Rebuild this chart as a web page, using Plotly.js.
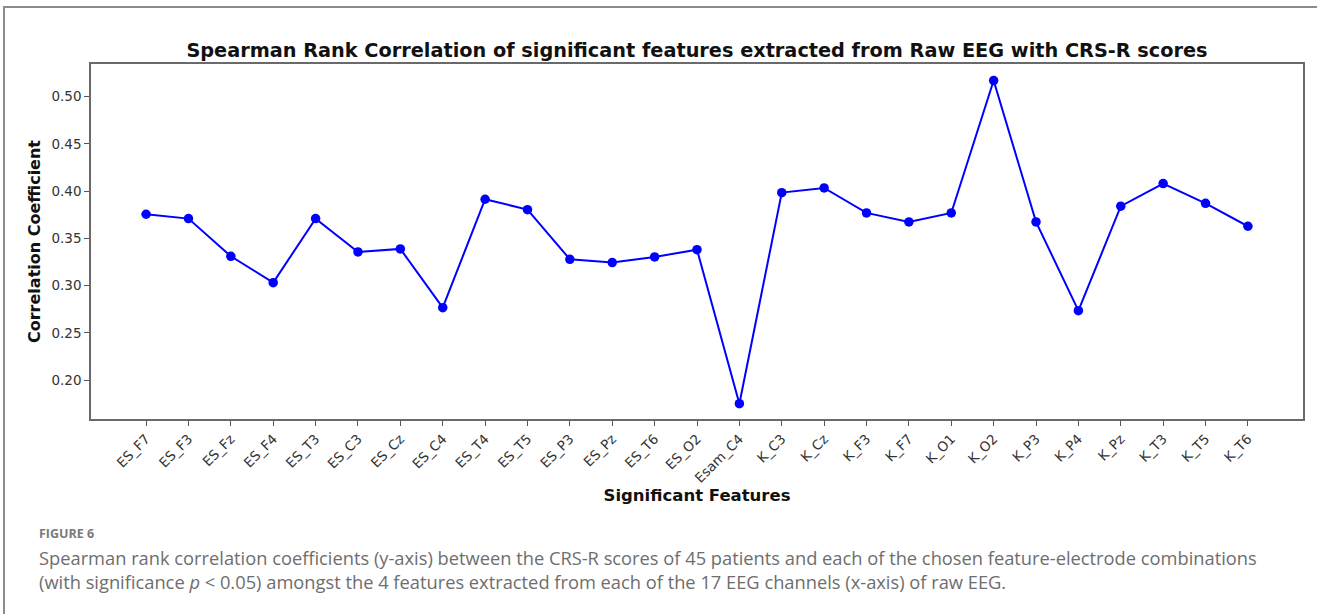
<!DOCTYPE html>
<html>
<head>
<meta charset="utf-8">
<script src="https://cdn.plot.ly/plotly-3.0.1.min.js"></script>
<style>
  html, body { margin: 0; padding: 0; background: #ffffff; }
  #wrap { position: relative; width: 1317px; height: 614px; overflow: hidden; }
  #frame { position: absolute; left: 3px; top: 6px; right: -5px; bottom: -5px;
           border-top: 2px solid #8c8c8c; border-left: 2px solid #8c8c8c; pointer-events: none; }
  #chart { position: absolute; left: 0; top: 0; width: 1317px; height: 614px; }
</style>
</head>
<body>
<div id="wrap">
  <div id="chart"></div>
  <div id="frame"></div>
</div>
<script>
const features = ["ES_F7","ES_F3","ES_Fz","ES_F4","ES_T3","ES_C3","ES_Cz","ES_C4","ES_T4","ES_T5",
                  "ES_P3","ES_Pz","ES_T6","ES_O2","Esam_C4","K_C3","K_Cz","K_F3","K_F7","K_O1",
                  "K_O2","K_P3","K_P4","K_Pz","K_T3","K_T5","K_T6"];
const correlation = [0.3755,0.3709,0.3310,0.3031,0.3709,0.3356,0.3388,0.2766,0.3914,0.3804,
                     0.3278,0.3243,0.3303,0.3380,0.1749,0.3984,0.4034,0.3769,0.3674,0.3769,
                     0.5171,0.3674,0.2734,0.3840,0.4080,0.3871,0.3628];
const yTicks = [0.20,0.25,0.30,0.35,0.40,0.45,0.50];
const yTickText = ["0.20","0.25","0.30","0.35","0.40","0.45","0.50"];

const trace = {
  x: features, y: correlation, type: "scatter", mode: "lines+markers",
  line: {color: "#0000ff", width: 2},
  marker: {color: "#0000ff", size: 9.5, line: {color: "#0000ff", width: 0}},
  hoverinfo: "x+y"
};

const tickFont = {family: "DejaVu Sans", size: 13.5, color: "#333333"};
const W = 1212, H = 355, L = 91, T = 64;
function px2x(px) { return (px - L) / W; }
function py2y(py) { return (T + H - py) / H; }

const layout = {
  width: 1317, height: 614,
  margin: {l: 91, r: 14, t: 64, b: 195},
  paper_bgcolor: "#ffffff", plot_bgcolor: "#ffffff",
  showlegend: false,
  title: {
    text: "<b>Spearman Rank Correlation of significant features extracted from Raw EEG with CRS-R scores</b>",
    font: {family: "DejaVu Sans", size: 19.3, color: "#111111"},
    xref: "paper", x: 0.5, xanchor: "center",
    yref: "container", y: 1 - 50.5/614, yanchor: "middle"
  },
  xaxis: {
    type: "category", range: [-1.3, 27.3],
    showgrid: false, zeroline: false,
    showline: true, mirror: true, linecolor: "#6a6a6a", linewidth: 1.5,
    ticks: "outside", ticklen: 5, tickcolor: "#555555", tickwidth: 1,
    tickangle: -45, tickfont: tickFont,
    title: {text: "<b>Significant Features</b>", font: {family: "DejaVu Sans", size: 16.5, color: "#111111"}, standoff: 1}
  },
  yaxis: {
    range: [0.1587, 0.5346],
    tickvals: yTicks, ticktext: yTickText,
    showgrid: false, zeroline: false,
    showline: true, mirror: true, linecolor: "#6a6a6a", linewidth: 1.5,
    ticks: "outside", ticklen: 5, tickcolor: "#555555", tickwidth: 1,
    tickfont: tickFont,
    title: {text: "<b>Correlation Coefficient</b>", font: {family: "DejaVu Sans", size: 16, color: "#111111"}, standoff: 7}
  },
  annotations: [
    {text: "<b>FIGURE 6</b>", xref: "paper", yref: "paper", x: px2x(37), y: py2y(533),
     xanchor: "left", yanchor: "middle", showarrow: false,
     font: {family: "Open Sans", size: 12.5, color: "#7a7a7a"}},
    {text: "Spearman rank correlation coefficients (y-axis) between the CRS-R scores of 45 patients and each of the chosen feature-electrode combinations",
     xref: "paper", yref: "paper", x: px2x(37), y: py2y(557),
     xanchor: "left", yanchor: "middle", showarrow: false,
     font: {family: "Open Sans", size: 18.3, color: "#6e6e6e"}},
    {text: "(with significance <i>p</i> &lt; 0.05) amongst the 4 features extracted from each of the 17 EEG channels (x-axis) of raw EEG.",
     xref: "paper", yref: "paper", x: px2x(37), y: py2y(581),
     xanchor: "left", yanchor: "middle", showarrow: false,
     font: {family: "Open Sans", size: 18.3, color: "#6e6e6e"}}
  ]
};

Plotly.newPlot("chart", [trace], layout, {displayModeBar: false, responsive: false});
</script>
</body>
</html>
